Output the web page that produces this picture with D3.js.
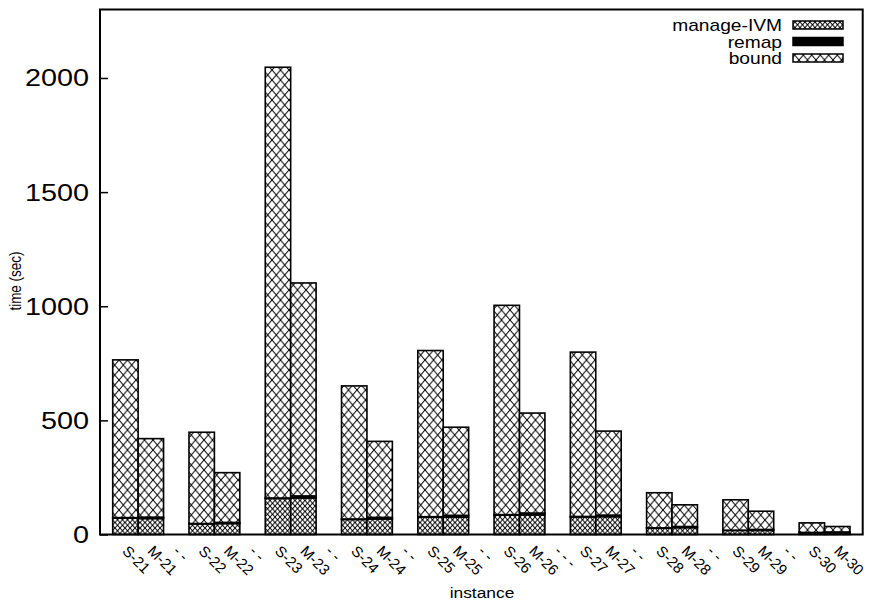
<!DOCTYPE html>
<html><head><meta charset="utf-8">
<script src="https://cdn.jsdelivr.net/npm/d3@7"></script>
<style>body{margin:0;background:#fff}svg{display:block}</style>
</head><body>
<script>
// ---- data ----
const tickLabels = ["S-21","M-21","- -","S-22","M-22","- -","S-23","M-23","- -","S-24","M-24","- -",
  "S-25","M-25","- -","S-26","M-26","- - -","S-27","M-27","- -","S-28","M-28","- -","S-29","M-29","- -","S-30","M-30"];
const instances = ["S-21","M-21","S-22","M-22","S-23","M-23","S-24","M-24","S-25","M-25",
  "S-26","M-26","S-27","M-27","S-28","M-28","S-29","M-29","S-30","M-30"];
const manageIVM = [72,70,47,48,158,160,66,68,76,76,85,86,77,78,28,30,18,18,8,8];
const remap     = [2,6,1,5,2,9,2,7,2,8,2,8,2,7,1,5,1,4,1,3];
const bound     = [691,344,400,218,1887,933,583,333,728,386,917,438,720,368,154,95,133,80,42,24];
const yTicks = [0,500,1000,1500,2000];
const seriesNames = ["manage-IVM","remap","bound"];
const keys = ["manage","remap","bound"];

// ---- setup ----
const W = 869, H = 608;
const svg = d3.select("body").append("svg").attr("width", W).attr("height", H);
const x = d3.scaleLinear().domain([-1, 29]).range([100, 862.7]);
const y = d3.scaleLinear().domain([0, 2300]).range([534.5, 9.5]);
const FONT = "'Liberation Sans', Arial, Helvetica, sans-serif";
function txt(parent, px, py, str, size, anchor, rot, sx) {
  return parent.append("text")
    .attr("transform", `translate(${px},${py}) scale(${sx == null ? 1.2 : sx},1) rotate(${rot || 0})`)
    .attr("text-anchor", anchor).attr("font-size", size)
    .attr("font-family", FONT).attr("fill", "#000").text(str);
}

// patterns
const defs = svg.append("defs");
function hatch(id, w, h) {
  const p = defs.append("pattern").attr("id", id).attr("patternUnits", "userSpaceOnUse")
    .attr("width", w).attr("height", h);
  p.append("rect").attr("width", w).attr("height", h).attr("fill", "#fff");
  p.append("path").attr("d", `M0,0L${w},${h}M0,${h}L${w},0`)
    .attr("stroke", "#000").attr("stroke-width", 1).attr("fill", "none");
}
hatch("pManage", 5, 5.5);
hatch("pBound", 8.5, 10);
const fills = {manage: "url(#pManage)", remap: "#000", bound: "url(#pBound)"};

// ---- bars ----
const rows = instances.map((name, i) => ({
  name, slot: tickLabels.indexOf(name),
  manage: manageIVM[i], remap: remap[i], bound: bound[i]
}));
const stacked = d3.stack().keys(keys)(rows);
const gBars = svg.append("g");
stacked.forEach(layer => {
  gBars.selectAll(null).data(layer).enter().append("rect")
    .attr("x", d => x(d.data.slot - 0.5))
    .attr("width", d => x(d.data.slot + 0.5) - x(d.data.slot - 0.5))
    .attr("y", d => y(d[1]))
    .attr("height", d => y(d[0]) - y(d[1]))
    .attr("fill", fills[layer.key])
    .attr("stroke", "#000").attr("stroke-width", 1.6);
});

// ---- axes ----
const yAxis = svg.append("g").attr("transform", `translate(${x(-1)},0)`)
  .call(d3.axisLeft(y).tickValues(yTicks).tickSizeInner(-8).tickSizeOuter(0));
yAxis.select(".domain").remove();
yAxis.selectAll("line").attr("stroke", "#000").attr("stroke-width", 1.5);
yAxis.selectAll("text").remove();
yTicks.forEach(t => txt(svg, 89, y(t) + 8.5, String(t), 24, "end"));

tickLabels.forEach((lab, i) => {
  txt(svg, x(i) - 4, 552, lab, 15, "start", 45, 1);
});

// frame
svg.append("rect").attr("x", x(-1)).attr("y", y(2300))
  .attr("width", x(29) - x(-1)).attr("height", y(0) - y(2300))
  .attr("fill", "none").attr("stroke", "#000").attr("stroke-width", 2);

// axis titles
txt(svg, 21, 281, "time (sec)", 13.5, "middle", -90);
txt(svg, 482, 598, "instance", 14.5, "middle");

// ---- legend ----
const legY = [25, 41.5, 58];
seriesNames.forEach((name, i) => {
  txt(svg, 782, legY[i] + 6, name, 16, "end");
  svg.append("rect").attr("x", 793).attr("y", legY[i] - 4).attr("width", 50).attr("height", 8)
    .attr("fill", fills[keys[i]]).attr("stroke", "#000").attr("stroke-width", 1.5);
});
</script>
</body></html>
